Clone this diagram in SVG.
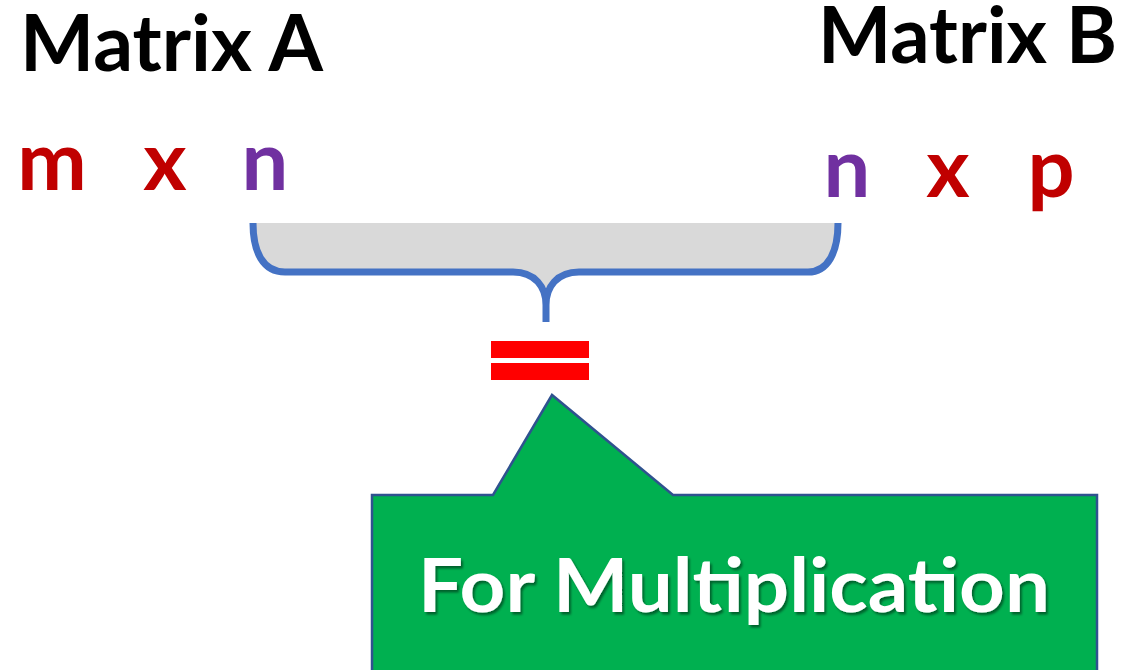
<svg xmlns="http://www.w3.org/2000/svg" width="1125" height="670" viewBox="0 0 1125 670">
  <style>
    .title { font-family: Lato, "Open Sans", "Liberation Sans", sans-serif; font-weight: 700; font-size: 78px; fill: #000000; }
    .dim { font-family: Lato, "Open Sans", "Liberation Sans", sans-serif; font-weight: 700; font-size: 83px; text-anchor: middle; }
    .red { fill: #C00000; }
    .purple { fill: #7030A0; }
    .label { font-family: Lato, "Open Sans", "Liberation Sans", sans-serif; font-weight: 700; font-size: 75px; fill: #FFFFFF; }
  </style>
  <defs>
    <filter id="textShadow" x="-5%" y="-20%" width="110%" height="150%">
      <feDropShadow dx="2" dy="2.5" stdDeviation="1.2" flood-color="#000000" flood-opacity="0.45"/>
    </filter>
  </defs>
  <rect width="1125" height="670" fill="#FFFFFF"/>

  <!-- Matrix A with its dimensions -->
  <g id="matrixA">
    <text class="title" x="20" y="71" textLength="303" lengthAdjust="spacingAndGlyphs">Matrix A</text>
    <text class="dim red" x="52" y="190">m</text>
    <text class="dim red" x="165" y="190">x</text>
    <text class="dim purple" x="265" y="190">n</text>
  </g>

  <!-- Matrix B with its dimensions -->
  <g id="matrixB">
    <text class="title" x="818" y="63" textLength="299" lengthAdjust="spacingAndGlyphs">Matrix B</text>
    <text class="dim purple" x="847" y="197">n</text>
    <text class="dim red" x="948" y="197">x</text>
    <text class="dim red" x="1051" y="197">p</text>
  </g>

  <!-- Brace joining the inner dimensions -->
  <g id="connectors">
    <path d="M253,223 C253,252 263,272 285,272 L513,272 C535,272 546,287 546,305 C546,287 557,272 579,272 L808,272 C828,272 838,252 838,223 Z" fill="#D9D9D9" stroke="none"/>
    <path d="M253,223 C253,252 263,272 285,272 L513,272 C535,272 546,287 546,305 L546,322 M546,305 C546,287 557,272 579,272 L808,272 C828,272 838,252 838,223" fill="none" stroke="#4472C4" stroke-width="7"/>
  </g>

  <!-- Equals sign -->
  <g id="equals">
    <rect x="491" y="341" width="98" height="17" fill="#FF0000"/>
    <rect x="491" y="363" width="98" height="17" fill="#FF0000"/>
  </g>

  <!-- Callout -->
  <g id="callout">
    <polygon points="372,495 493,495 552,395 673,495 1097,495 1097,673 372,673" fill="#00B050" stroke="#2F528F" stroke-width="2.5" stroke-linejoin="miter"/>
    <text class="label" x="418" y="612" textLength="632" lengthAdjust="spacingAndGlyphs" filter="url(#textShadow)">For Multiplication</text>
  </g>
</svg>
